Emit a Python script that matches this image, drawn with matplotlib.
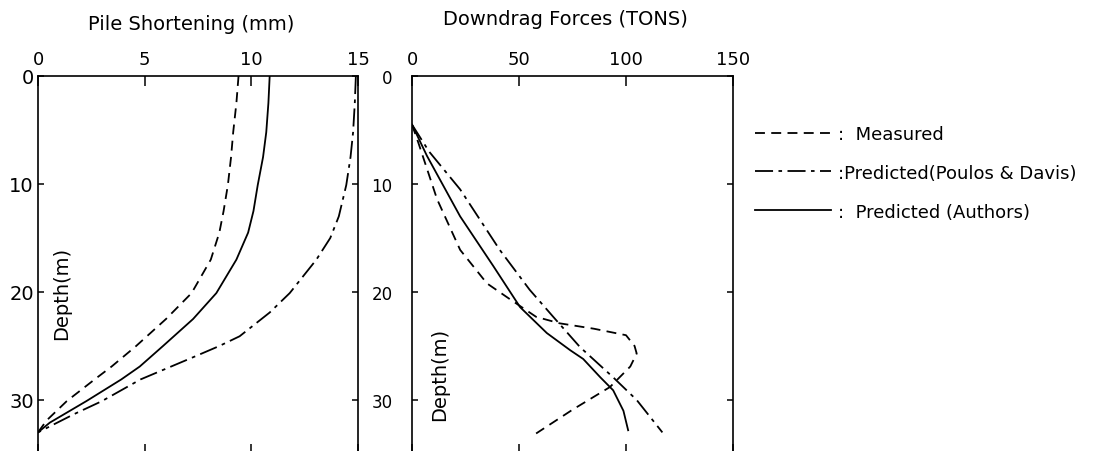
import matplotlib
matplotlib.use("Agg")
from matplotlib import pyplot

FONTSIZE = 13
LW = 1.3
DASHED = (0, (5.5, 3.5))
DASHDOT = (0, (10, 3, 2, 3))

# Pile shortening (mm) against depth (m)
meas_short_depth = [0, 2.5, 5.2, 7.5, 10.1, 12.5, 14.5, 17.0, 20.1, 22.5, 25.0, 26.9, 28.1, 30.1, 31.9, 33.0]
meas_short = [9.4, 9.3, 9.15, 9.05, 8.9, 8.7, 8.5, 8.1, 7.2, 6.0, 4.6, 3.45, 2.65, 1.35, 0.4, 0.0]

auth_short_depth = [0, 2.5, 5.2, 7.5, 10.1, 12.5, 14.5, 17.0, 20.1, 22.5, 25.0, 26.9, 28.1, 30.1, 32.1, 33.0]
auth_short = [10.86, 10.8, 10.7, 10.55, 10.3, 10.1, 9.85, 9.3, 8.36, 7.27, 5.86, 4.77, 3.9, 2.27, 0.55, 0.0]

poul_short_depth = [0, 2.5, 5.2, 7.5, 10.1, 13.0, 15.0, 17.0, 20.1, 21.9, 24.1, 25.0, 26.1, 27.1, 28.1, 30.1, 31.3, 33.0]
poul_short = [14.9, 14.85, 14.77, 14.65, 14.45, 14.1, 13.7, 13.05, 11.8, 10.86, 9.45, 8.5, 7.2, 6.0, 4.8, 3.0, 1.7, 0.0]

# Downdrag force (tons) against depth (m)
meas_force_depth = [4.5, 6.2, 11.4, 16.1, 19.2, 20.7, 22.3, 22.9, 23.4, 24.0, 25.0, 25.7, 26.9, 28.8, 30.9, 33.1]
meas_force = [0, 3.0, 11.7, 22.5, 35.0, 46.0, 58.0, 69.0, 85.0, 100.0, 104.0, 105.0, 102.0, 92.5, 75.0, 58.0]

auth_force_depth = [4.5, 7.4, 13.0, 17.6, 21.4, 23.8, 25.4, 26.2, 27.9, 29.1, 31.0, 32.8]
auth_force = [0, 7.0, 22.5, 38.0, 50.5, 63.0, 74.0, 80.0, 88.0, 94.0, 98.8, 101.0]

poul_force_depth = [4.5, 7.0, 10.5, 16.1, 19.8, 22.3, 25.1, 27.9, 30.0, 33.0]
poul_force = [0, 8.0, 22.5, 41.0, 55.0, 66.0, 78.5, 94.0, 105.0, 117.0]

labels = [":  Measured", ":Predicted(Poulos & Davis)", ":  Predicted (Authors)"]

W, H = 1106, 452
fig = pyplot.figure(figsize=(W / 100, H / 100), dpi=100)
ax1 = fig.add_axes([38 / W, -3 / H, 320 / W, 378 / H])
ax2 = fig.add_axes([412 / W, -3 / H, 321 / W, 378 / H])

ax1.plot(meas_short, meas_short_depth, color="black", lw=LW, linestyle=DASHED)
ax1.plot(poul_short, poul_short_depth, color="black", lw=LW, linestyle=DASHDOT)
ax1.plot(auth_short, auth_short_depth, color="black", lw=LW)

l1, = ax2.plot(meas_force, meas_force_depth, color="black", lw=LW, linestyle=DASHED)
l2, = ax2.plot(poul_force, poul_force_depth, color="black", lw=LW, linestyle=DASHDOT)
l3, = ax2.plot(auth_force, auth_force_depth, color="black", lw=LW)

for ax, xmax, step in ((ax1, 15, 5), (ax2, 150, 50)):
    ax.set_xlim(0, xmax)
    ax.set_ylim(35, 0)
    ax.set_xticks(range(0, xmax + 1, step))
    ax.set_yticks([0, 10, 20, 30])
    for s in ax.spines.values():
        s.set_linewidth(1.2)
    ax.tick_params(axis="x", direction="in", top=True, bottom=True,
                   labeltop=True, labelbottom=False, length=7, width=1.1,
                   pad=6, labelsize=FONTSIZE)
    ax.tick_params(axis="y", direction="in", left=True, right=True,
                   length=4, width=1.1, labelsize=FONTSIZE)

ax1.tick_params(axis="y", pad=3, labelsize=14)
ax2.tick_params(axis="y", pad=14, labelsize=12)

ax1.text(0.478, 1.138, "Pile Shortening (mm)", transform=ax1.transAxes,
         ha="center", va="center", fontsize=14)
ax2.text(0.477, 1.151, "Downdrag Forces (TONS)", transform=ax2.transAxes,
         ha="center", va="center", fontsize=14)
ax1.text(0.075, 0.4286, "Depth(m)", transform=ax1.transAxes, rotation=90,
         ha="center", va="center", fontsize=14)
ax2.text(0.087, 0.214, "Depth(m)", transform=ax2.transAxes, rotation=90,
         ha="center", va="center", fontsize=14)

fig.legend([l1, l2, l3], labels, loc="upper left",
           bbox_to_anchor=(755 / W, 1 - 126 / H), frameon=False,
           handlelength=4.2, handletextpad=0.4, labelspacing=1.15,
           borderpad=0, borderaxespad=0, fontsize=FONTSIZE)

fig.savefig("out.png", dpi=100)
